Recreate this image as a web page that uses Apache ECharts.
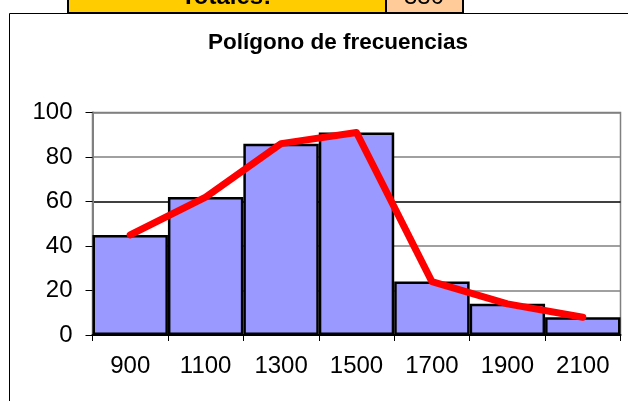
<!DOCTYPE html>
<html>
<head>
<meta charset="utf-8">
<script src="https://cdn.jsdelivr.net/npm/echarts@6/dist/echarts.min.js"></script>
<style>
html,body{margin:0;padding:0;background:#fff;}
#c{width:628px;height:401px;}
</style>
</head>
<body>
<div id="c"></div>
<script>
var categories = ['900','1100','1300','1500','1700','1900','2100'];
var frecuencias = [45, 62, 86, 91, 24, 14, 8];
var poligono = [45, 62, 86, 91, 24, 14, 8];
var yTicks = [0, 20, 40, 60, 80, 100];
var titulo = 'Polígono de frecuencias';
var totalLabel = 'Totales:';
var totalValue = '330';

var chart = echarts.init(document.getElementById('c'), null, {renderer: 'canvas'});
var FONT = '"Liberation Sans", Arial, sans-serif';
chart.setOption({
  animation: false,
  backgroundColor: '#fff',
  title: {
    text: titulo,
    left: 333, top: 26, textAlign: 'center',
    textStyle: {fontFamily: FONT, fontWeight: 'bold', fontSize: 22.5, color: '#000'}
  },
  graphic: [
    {type: 'rect', shape: {x: 9.5, y: 13.5, width: 640, height: 400}, style: {fill: 'none', stroke: '#000', lineWidth: 1}, z: 0},
    {type: 'rect', shape: {x: 68, y: -4, width: 318, height: 17}, style: {fill: '#FFCC00', stroke: '#000', lineWidth: 2}, z: 1},
    {type: 'rect', shape: {x: 386, y: -4, width: 77, height: 17}, style: {fill: '#FFCC99', stroke: '#000', lineWidth: 2}, z: 1},
    {type: 'text', style: {text: totalLabel, x: 226, y: 9, align: 'center', verticalAlign: 'bottom', font: 'bold 24px ' + FONT, fill: '#000'}, z: 2},
    {type: 'text', style: {text: totalValue, x: 424, y: 9, align: 'center', verticalAlign: 'bottom', font: '24px ' + FONT, fill: '#000'}, z: 2}
  ],
  grid: {left: 92.5, right: 7.5, top: 112.5, bottom: 66, show: true, borderColor: '#808080', borderWidth: 1.5, backgroundColor: 'transparent'},
  xAxis: {
    type: 'category', data: categories, boundaryGap: true,
    axisLine: {lineStyle: {color: '#000', width: 2}},
    axisTick: {show: true, length: 6, alignWithLabel: false, lineStyle: {color: '#000', width: 1}},
    axisLabel: {fontFamily: FONT, fontSize: 24, color: '#000', margin: 19, interval: 0},
    splitLine: {show: false}
  },
  yAxis: {
    type: 'value', min: yTicks[0], max: yTicks[yTicks.length - 1], interval: 20,
    axisLine: {show: true, lineStyle: {color: '#808080', width: 2}},
    axisTick: {show: true, length: 7, lineStyle: {color: '#000', width: 1}},
    axisLabel: {fontFamily: FONT, fontSize: 24, color: '#000', margin: 20},
    splitLine: {show: true, lineStyle: {color: ['#808080', '#808080', '#808080', '#000', '#808080', '#808080'], width: 1.5}}
  },
  series: [
    {
      type: 'bar', data: frecuencias, barCategoryGap: '0%', barGap: '-100%',
      itemStyle: {color: '#9999FF', borderColor: '#000', borderWidth: 2.5},
      z: 2
    },
    {
      type: 'line', data: poligono, showSymbol: false, symbol: 'none',
      lineStyle: {color: '#FF0000', width: 7, cap: 'round', join: 'round'},
      z: 3
    }
  ]
});
</script>
</body>
</html>
